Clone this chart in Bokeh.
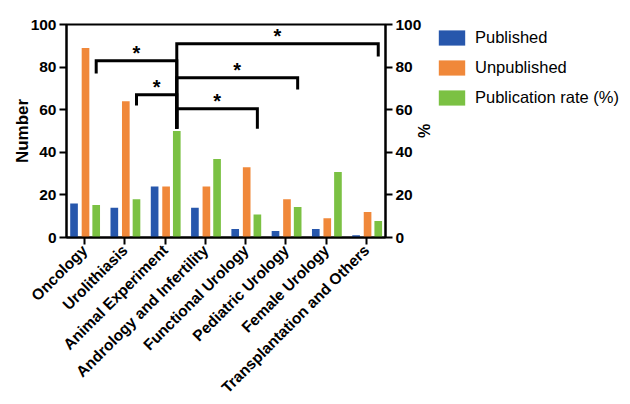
import numpy as np
from bokeh.plotting import figure
from bokeh.layouts import row
from bokeh.models import (ColumnDataSource, Range1d, LinearAxis, FixedTicker,
                          Legend, LegendItem)
from bokeh.core.properties import value
from bokeh.embed import file_html
from bokeh.resources import INLINE

# ---------------- data ----------------
categories = ["Oncology", "Urolithiasis", "Animal Experiment",
              "Andrology and Infertility", "Functional Urology",
              "Pediatric Urology", "Female Urology",
              "Transplantation and Others"]
published = [16, 14, 24, 14, 4, 3, 4, 1]
unpublished = [89, 64, 24, 24, 33, 18, 9, 12]
pub_rate = [15.2, 17.9, 50.0, 36.8, 10.8, 14.3, 30.8, 7.7]
y_ticks = [0, 20, 40, 60, 80, 100]
series_names = ["Published", "Unpublished", "Publication rate (%)"]

# significance brackets on the publication rate
br_from = ["Oncology", "Urolithiasis", "Animal Experiment",
           "Animal Experiment", "Animal Experiment"]
br_to = ["Animal Experiment", "Animal Experiment", "Functional Urology",
         "Pediatric Urology", "Transplantation and Others"]
br_height = [83, 67, 60.5, 75, 91]
br_from_end = [77, 62, 51, 51, 51]
br_to_end = [51, 51, 51, 69.5, 85]
br_label = ["*", "*", "*", "*", "*"]

# ---------------- style ----------------
FONT = "Liberation Sans"
BLUE = "#2757AC"
ORANGE = "#F0883A"
GREEN = "#7BC143"
COLORS = [BLUE, ORANGE, GREEN]
OFF_B, OFF_O, OFF_G = -0.26, 0.025, 0.29
BAR_W = 0.19

idx = np.arange(len(categories))
src = ColumnDataSource(dict(
    xb=idx + OFF_B, xo=idx + OFF_O, xg=idx + OFF_G,
    published=published, unpublished=unpublished, rate=pub_rate))
bar_specs = [("xb", "published"), ("xo", "unpublished"), ("xg", "rate")]

p = figure(frame_width=319, frame_height=213,
           x_range=Range1d(-0.447, len(categories) - 1 + 0.47),
           y_range=Range1d(0, 100),
           output_backend="svg", toolbar_location=None,
           min_border_left=66, min_border_top=24,
           min_border_right=50, min_border_bottom=160)
p.extra_y_ranges = {"pct": Range1d(0, 100)}
p.background_fill_color = "white"
p.border_fill_color = "white"
p.outline_line_color = "black"
p.outline_line_width = 2
p.xgrid.visible = False
p.ygrid.visible = False

for (xc, yc), col in zip(bar_specs, COLORS):
    kw = dict(y_range_name="pct") if yc == "rate" else {}
    p.vbar(x=xc, top=yc, width=BAR_W, source=src,
           fill_color=col, line_color=None, **kw)

# brackets
pos = {c: i + OFF_G for i, c in enumerate(categories)}
xs, ys, sx, sy = [], [], [], []
for a, b, h, ea, eb in zip(br_from, br_to, br_height, br_from_end, br_to_end):
    x1, x2 = pos[a], pos[b]
    xs.append([x1, x1, x2, x2])
    ys.append([ea, h, h, eb])
    sx.append((x1 + x2) / 2)
    sy.append(h)
p.multi_line(xs=xs, ys=ys, line_color="black", line_width=3,
             line_join="miter", line_cap="butt", y_range_name="pct")
p.text(x=sx, y=sy, text=br_label, text_font=value(FONT),
       text_font_style="bold", text_font_size="20px",
       text_align="center", text_baseline="alphabetic", y_offset=-8,
       text_color="black", y_range_name="pct")


def style_axis(ax):
    ax.axis_line_width = 2
    ax.axis_line_color = "black"
    ax.major_tick_line_width = 2
    ax.major_tick_line_color = "black"
    ax.major_tick_out = 7
    ax.major_tick_in = 0
    ax.minor_tick_line_color = None
    ax.major_label_text_font = FONT
    ax.major_label_text_font_style = "bold"
    ax.major_label_text_color = "black"
    ax.axis_label_text_font = FONT
    ax.axis_label_text_font_style = "bold"
    ax.axis_label_text_color = "black"


# x axis
xa = p.xaxis[0]
style_axis(xa)
xa.ticker = FixedTicker(ticks=list(idx))
xa.major_label_overrides = {int(i): c for i, c in zip(idx, categories)}
xa.major_label_orientation = np.pi / 4
xa.major_label_text_font_size = "15.5px"
xa.major_label_standoff = 3

# left axis
ya = p.yaxis[0]
style_axis(ya)
ya.ticker = FixedTicker(ticks=y_ticks)
ya.axis_label = "Number"
ya.axis_label_text_font_size = "17px"
ya.axis_label_standoff = -4
ya.major_label_text_font_size = "15.5px"
ya.major_label_standoff = 3

# right axis
ra = LinearAxis(y_range_name="pct", axis_label="%")
style_axis(ra)
ra.ticker = FixedTicker(ticks=y_ticks)
ra.axis_label_text_font_size = "16px"
ra.axis_label_standoff = -9
ra.major_label_text_font_size = "15.5px"
ra.major_label_standoff = 3
p.add_layout(ra, "right")

# legend in a small companion panel to the right (hidden copies of the bars)
lg = figure(width=195, height=130, output_backend="svg",
            toolbar_location=None, min_border_left=0, min_border_right=0,
            min_border_top=24, min_border_bottom=0,
            x_range=Range1d(0, 1), y_range=Range1d(0, 1))
lg.axis.visible = False
lg.grid.visible = False
lg.outline_line_color = None
lg.background_fill_color = "white"
lg.border_fill_color = "white"
items = []
for name, (xc, yc), col in zip(series_names, bar_specs, COLORS):
    r = lg.vbar(x=xc, top=yc, width=BAR_W, source=src,
                fill_color=col, line_color=None)
    r.visible = False
    items.append(LegendItem(label=name, renderers=[r]))
legend = Legend(items=items, location="top_left", orientation="vertical",
                border_line_color=None, background_fill_alpha=0,
                padding=7, margin=0, spacing=0,
                glyph_width=33, glyph_height=19, label_height=30,
                label_standoff=7,
                label_text_font=FONT, label_text_font_size="16.5px",
                label_text_color="black")
lg.add_layout(legend, "center")

layout = row(p, lg, spacing=0)
open("out.html", "w").write(file_html(layout, INLINE))
